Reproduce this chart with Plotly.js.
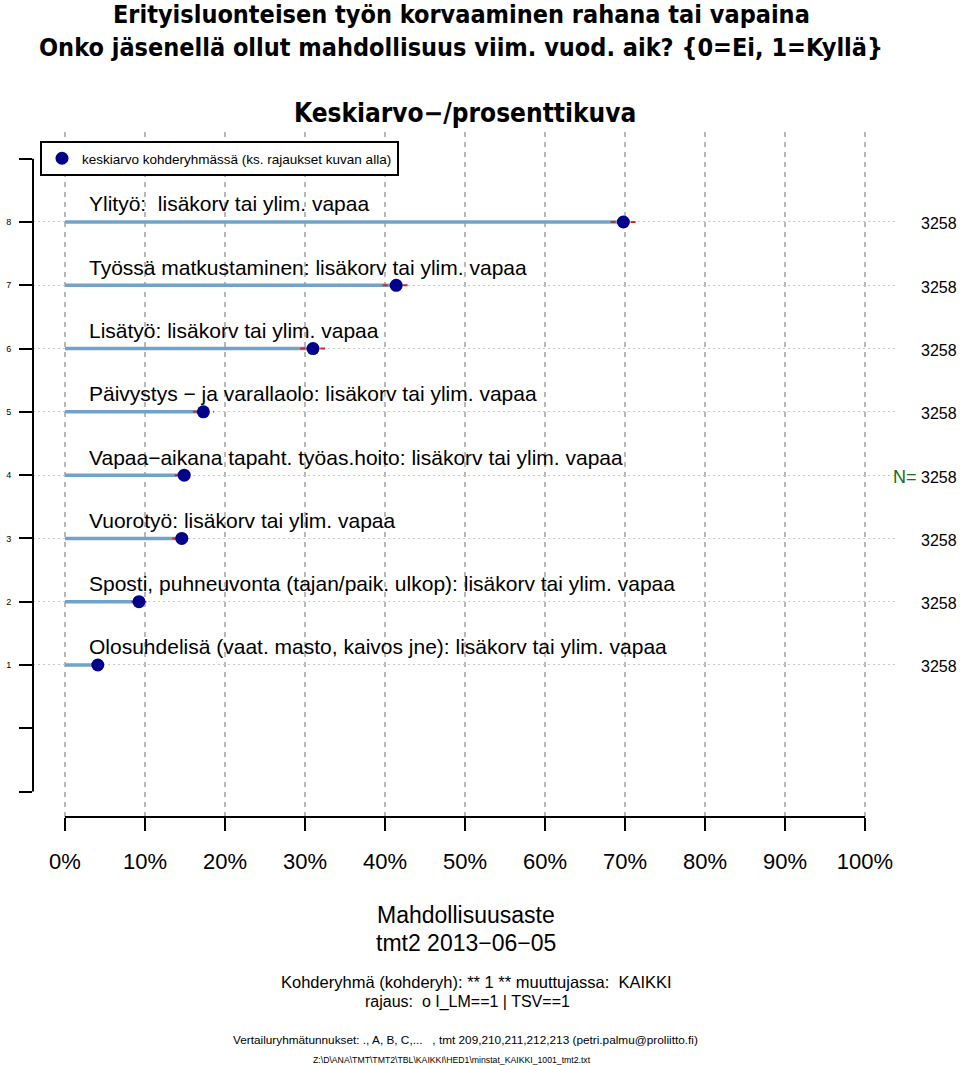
<!DOCTYPE html>
<html>
<head>
<meta charset="utf-8">
<script src="https://cdn.plot.ly/plotly-3.0.1.min.js"></script>
<style>html,body{margin:0;padding:0;background:#fff;}#chart{width:960px;height:1065px;}</style>
</head>
<body>
<div id="chart"></div>
<script>
// ---- data ----
const rows = [1, 2, 3, 4, 5, 6, 7, 8];
const labels = [
  "Olosuhdelisä (vaat. masto, kaivos jne): lisäkorv tai ylim. vapaa",
  "Sposti, puhneuvonta (tajan/paik. ulkop): lisäkorv tai ylim. vapaa",
  "Vuorotyö: lisäkorv tai ylim. vapaa",
  "Vapaa\u2212aikana tapaht. työas.hoito: lisäkorv tai ylim. vapaa",
  "Päivystys \u2212 ja varallaolo: lisäkorv tai ylim. vapaa",
  "Lisätyö: lisäkorv tai ylim. vapaa",
  "Työssä matkustaminen: lisäkorv tai ylim. vapaa",
  "Ylityö: \u00a0lisäkorv tai ylim. vapaa"
];
const means  = [4.1, 9.25, 14.6, 14.9, 17.3, 31.0, 41.4, 69.8];
const ciLow  = [3.4, 8.3, 13.4, 13.7, 16.0, 29.4, 39.7, 68.2];
const ciHigh = [4.8, 10.2, 15.8, 16.1, 18.6, 32.6, 43.1, 71.4];
const nObs   = [3258, 3258, 3258, 3258, 3258, 3258, 3258, 3258];
const xTickVals = [0, 10, 20, 30, 40, 50, 60, 70, 80, 90, 100];
const xTickText = ["0%", "10%", "20%", "30%", "40%", "50%", "60%", "70%", "80%", "90%", "100%"];
const yTickVals = [1, 2, 3, 4, 5, 6, 7, 8];
const yTickText = ["1", "2", "3", "4", "5", "6", "7", "8"];
const titleLines = [
  "Erityisluonteisen työn korvaaminen rahana tai vapaina",
  "Onko jäsenellä ollut mahdollisuus viim. vuod. aik? {0=Ei, 1=Kyllä}"
];

// ---- layout geometry ----
const W = 960, H = 1065;
const mL = 33, mR = 65, mT = 132, mB = 248;
const plotH = H - mT - mB;
const plotW = W - mL - mR;
function py(pix) { return (H - mB - pix) / plotH; } // pixel y -> paper y
function px(pix) { return (pix - mL) / plotW; }      // pixel x -> paper x

const SANS = "Liberation Sans, Arial, Helvetica, sans-serif";
const NARROW = "DejaVu Sans Condensed, Liberation Sans Narrow, Arial Narrow, sans-serif";

const barX = [], barY = [];
const ciX = [], ciY = [];
rows.forEach((r, i) => {
  barX.push(0, means[i], null); barY.push(r, r, null);
  ciX.push(ciLow[i], ciHigh[i], null); ciY.push(r, r, null);
});

const traces = [
  {x: barX, y: barY, mode: "lines", type: "scatter", showlegend: false, hoverinfo: "skip",
   line: {color: "#6fa3c9", width: 3.5}},
  {x: ciX, y: ciY, mode: "lines", type: "scatter", showlegend: false, hoverinfo: "skip",
   line: {color: "#d4262b", width: 2, dash: "5px,5px"}},
  {x: means, y: rows, mode: "markers", type: "scatter", name: "keskiarvo kohderyhmässä (ks. rajaukset kuvan alla)",
   marker: {color: "#00008b", size: 13, line: {width: 0}}, showlegend: true}
];

const annotations = [];
rows.forEach((r, i) => {
  annotations.push({x: 2.75, y: r, xref: "x", yref: "y", text: labels[i], showarrow: false,
    xanchor: "left", yanchor: "middle", yshift: 18, font: {family: SANS, size: 21, color: "#000"}});
  annotations.push({x: px(959), y: r, xref: "paper", yref: "y", text: String(nObs[i]), showarrow: false,
    xanchor: "right", yanchor: "middle", yshift: -2, font: {family: SANS, size: 16, color: "#000"}});
});
annotations.push({x: px(919), y: 4, xref: "paper", yref: "y", text: "N=", showarrow: false,
  xanchor: "right", yanchor: "middle", yshift: -2, font: {family: SANS, size: 18, color: "#1a6b1a"}});

// titles
annotations.push({x: px(461), y: py(14), xref: "paper", yref: "paper", text: "<b>" + titleLines[0] + "</b>",
  showarrow: false, xanchor: "center", yanchor: "middle", font: {family: NARROW, size: 25, color: "#000"}});
annotations.push({x: px(461), y: py(47), xref: "paper", yref: "paper", text: "<b>" + titleLines[1] + "</b>",
  showarrow: false, xanchor: "center", yanchor: "middle", font: {family: NARROW, size: 25, color: "#000"}});
annotations.push({x: px(465), y: py(113), xref: "paper", yref: "paper", text: "<b>Keskiarvo\u2212/prosenttikuva</b>",
  showarrow: false, xanchor: "center", yanchor: "middle", font: {family: NARROW, size: 26, color: "#000"}});

const bottomTexts = [
  ["Mahdollisuusaste", 915, 23, 466],
  ["tmt2 2013\u221206\u221205", 943, 23, 466],
  ["Kohderyhmä (kohderyh): ** 1 ** muuttujassa: \u00a0KAIKKI", 982, 16.5, 477],
  ["rajaus: \u00a0o I_LM==1 | TSV==1", 1002, 16, 467],
  ["Vertailuryhmätunnukset: ., A, B, C,... \u00a0 , tmt 209,210,211,212,213 (petri.palmu@proliitto.fi)", 1040, 11.8, 465],
  ["Z:\\D\\ANA\\TMT\\TMT2\\TBL\\KAIKKI\\HED1\\minstat_KAIKKI_1001_tmt2.txt", 1060, 8.7, 452]
];
bottomTexts.forEach(t => annotations.push({x: px(t[3]), y: py(t[1]), xref: "paper", yref: "paper", text: t[0],
  showarrow: false, xanchor: "center", yanchor: "middle", font: {family: SANS, size: t[2], color: "#000"}}));

const shapes = [
  {type: "line", xref: "x", yref: "paper", x0: 0, x1: 100, y0: 0, y1: 0, line: {color: "#000", width: 2}},
  {type: "line", xref: "paper", yref: "y", x0: 0, x1: 0, y0: -1, y1: 9, line: {color: "#000", width: 2}}
];

const layout = {
  width: W, height: H,
  margin: {l: mL, r: mR, t: mT, b: mB, pad: 0},
  paper_bgcolor: "#fff", plot_bgcolor: "#fff",
  xaxis: {range: [-4, 103.75], tickmode: "array", tickvals: xTickVals, ticktext: xTickText,
    ticks: "outside", ticklen: 13, tickwidth: 2, tickcolor: "#000",
    showgrid: true, gridcolor: "#b8b8b8", gridwidth: 1.5, griddash: "5px,5px",
    zeroline: false, showline: false, fixedrange: true, ticklabelstandoff: 12,
    tickfont: {family: SANS, size: 22, color: "#000"}},
  yaxis: {range: [-1.402, 9.422], tickmode: "array", tickvals: yTickVals, ticktext: yTickText,
    ticks: "outside", ticklen: 13, tickwidth: 2, tickcolor: "#000",
    showgrid: true, gridcolor: "#c8c8c8", gridwidth: 1, griddash: "2px,3px",
    minor: {tickmode: "array", tickvals: [-1, 0, 9], ticks: "outside", ticklen: 13, tickwidth: 2, tickcolor: "#000", showgrid: false},
    zeroline: false, showline: false, fixedrange: true, ticklabelstandoff: 6,
    tickfont: {family: SANS, size: 9, color: "#000"}},
  showlegend: true,
  legend: {x: px(40), y: py(141), xref: "paper", yref: "paper", xanchor: "left", yanchor: "top",
    bgcolor: "#fff", bordercolor: "#000", borderwidth: 2, itemwidth: 30,
    font: {family: SANS, size: 13.5, color: "#000"}, tracegroupgap: 0},
  annotations: annotations,
  shapes: shapes
};

Plotly.newPlot("chart", traces, layout, {staticPlot: true, displayModeBar: false});
</script>
</body>
</html>
